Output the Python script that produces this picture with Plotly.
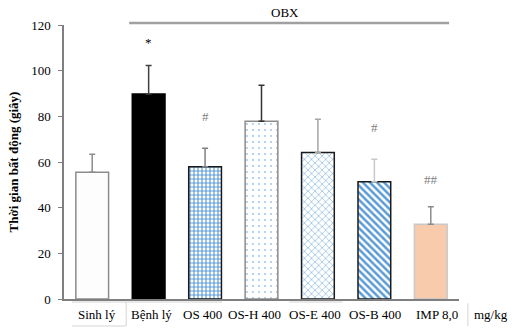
import plotly.graph_objects as go

# Immobility time per treatment group (seconds), mean and SD
groups = ["Sinh lý", "Bệnh lý", "OS 400", "OS-H 400", "OS-E 400", "OS-B 400", "IMP 8,0"]
means = [55.5, 89.8, 57.9, 77.8, 64.2, 51.4, 32.7]
sds = [7.9, 12.5, 8.1, 15.8, 14.5, 9.8, 7.7]
marks = ["", "*", "#", "", "", "#", "##"]
y_ticks = [0, 20, 40, 60, 80, 100, 120]

FONT = "Liberation Serif"

styles = [
    dict(color="#fdfdfd", line="#8c8c8c", err="#8c8c8c", pattern=None),
    dict(color="#000000", line="#000000", err="#404040", pattern=None),
    dict(color="#ffffff", line="#1a1a1a", err="#808080",
         pattern=dict(shape="+", fgcolor="#5b9bd5", bgcolor="#ffffff", size=4, solidity=0.5)),
    dict(color="#ffffff", line="#8c8c8c", err="#333333",
         pattern=dict(shape=".", fgcolor="#9dc3e6", bgcolor="#ffffff", size=6, solidity=0.08)),
    dict(color="#ffffff", line="#1a1a1a", err="#a6a6a6",
         pattern=dict(shape="x", fgcolor="#9dc3e6", bgcolor="#ffffff", size=5, solidity=0.3)),
    dict(color="#ffffff", line="#1a1a1a", err="#c8c8c8",
         pattern=dict(shape="\\", fgcolor="#5b9bd5", bgcolor="#ffffff", size=5, solidity=0.5)),
    dict(color="#f8cbad", line="#c8c8c8", err="#8c8c8c", pattern=None),
]

fig = go.Figure()
for g, m, s, st in zip(groups, means, sds, styles):
    marker = dict(color=st["color"], line=dict(color=st["line"], width=1.5))
    if st["pattern"]:
        marker["pattern"] = dict(fillmode="replace", **st["pattern"])
    fig.add_trace(go.Bar(
        x=[g], y=[m], width=0.58, marker=marker,
        error_y=dict(type="data", symmetric=False, array=[s], arrayminus=[0],
                     color=st["err"], thickness=1.5, width=3),
        showlegend=False,
    ))

# Significance markers above the error bars
mark_gap = [0, 10, 14, 0, 0, 14, 12]
for g, m, s, mk, gap in zip(groups, means, sds, marks, mark_gap):
    if mk:
        fig.add_annotation(x=g, y=m + s + gap, text=mk, showarrow=False,
                           font=dict(family=FONT, size=13,
                                     color="#000000" if mk == "*" else "#7f7f7f"))

# Group labels below the axis
label_shift = [5, 3, -3, -7, -3, 1, 6]
for g, dx in zip(groups, label_shift):
    fig.add_annotation(x=g, y=0, xref="x", yref="paper", yshift=-15, xshift=dx,
                       text=g, showarrow=False, xanchor="center", yanchor="middle",
                       font=dict(family=FONT, size=13, color="#000000"))
fig.add_annotation(x=1.08, y=0, xref="paper", yref="paper", yshift=-15,
                   text="mg/kg", showarrow=False, xanchor="center", yanchor="middle",
                   font=dict(family=FONT, size=13, color="#000000"))

# OBX bracket
fig.add_shape(type="line", xref="paper", yref="paper", x0=0.165, x1=0.975,
              y0=1.007, y1=1.007, line=dict(color="#a0a0a0", width=2.5))
fig.add_annotation(x=0.56, y=1.044, xref="paper", yref="paper", text="OBX",
                   showarrow=False, xanchor="center", yanchor="middle",
                   font=dict(family=FONT, size=13, color="#000000"))

# Light table rules around the group labels
rule = dict(color="#d4d4d4", width=1)
for x0, x1, y0, y1 in [
    (0.02, 0.40, -0.011, -0.011),
    (0.02, 0.1575, -0.0985, -0.0985),
    (0.1575, 0.1575, -0.011, -0.0985),
    (0.57, 0.705, -0.011, -0.011),
    (1.0225, 1.0225, -0.015, -0.0985),
]:
    fig.add_shape(type="line", xref="paper", yref="paper",
                  x0=x0, x1=x1, y0=y0, y1=y1, line=rule)

fig.update_layout(
    width=515, height=331,
    margin=dict(l=59, r=56, t=25, b=32),
    paper_bgcolor="white", plot_bgcolor="white",
    barmode="overlay",
    font=dict(family=FONT, size=13, color="#000000"),
    xaxis=dict(type="category", categoryorder="array", categoryarray=groups,
               showticklabels=False, ticks="", showline=True,
               linecolor="#7f7f7f", linewidth=1.5, showgrid=False,
               range=[-0.5, len(groups) - 0.5]),
    yaxis=dict(range=[0, 120], tickvals=y_ticks, ticks="outside", ticklen=4,
               tickcolor="#7f7f7f", showline=True, linecolor="#7f7f7f",
               linewidth=1.5, showgrid=False, zeroline=False,
               ticklabelstandoff=5,
               tickfont=dict(family=FONT, size=13),
               title=dict(text="<b>Thời gian bất động (giây)</b>", standoff=10,
                          font=dict(family=FONT, size=13))),
)

fig.write_html("out.html")
